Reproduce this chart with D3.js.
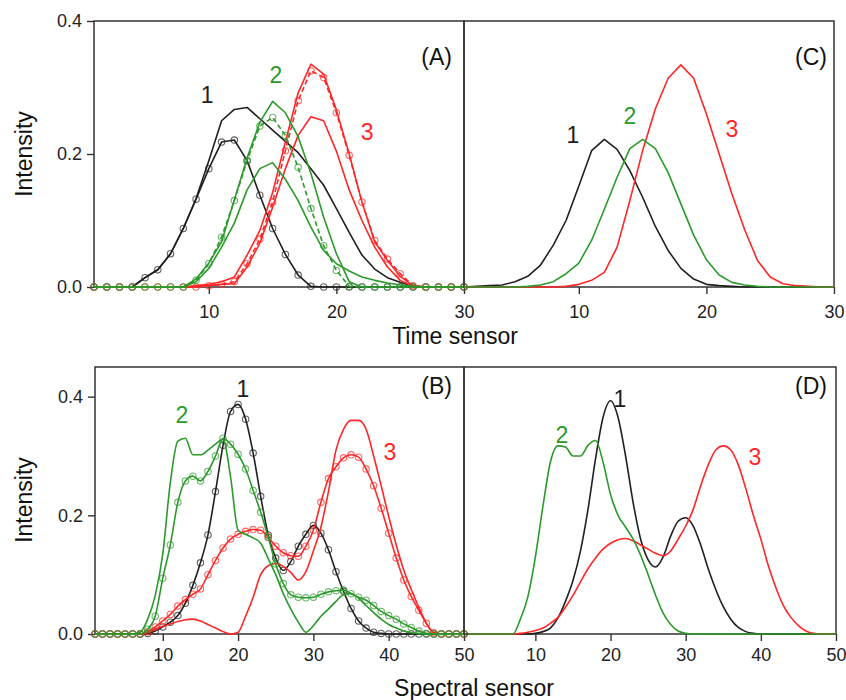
<!DOCTYPE html>
<html><head><meta charset="utf-8">
<script src="https://cdn.jsdelivr.net/npm/d3@7"></script>
<style>
body{margin:0;background:#fff}
svg text{font-family:"Liberation Sans",Arial,sans-serif;}
</style>
</head><body>
<svg id="chart" width="846" height="700"></svg>
<script>
// ---------------- DATA ----------------
const timeSensor = [1,2,3,4,5,6,7,8,9,10,11,12,13,14,15,16,17,18,19,20,21,22,23,24,25,26,27,28,29,30];
const spectralSensor = [1,2,3,4,5,6,7,8,9,10,11,12,13,14,15,16,17,18,19,20,21,22,23,24,25,26,27,28,29,30,31,32,33,34,35,36,37,38,39,40,41,42,43,44,45,46,47,48,49,50];
const timeTicks = [10,20,30];
const spectralTicks = [10,20,30,40,50];
const intensityTicks = [0,0.2,0.4];
const componentLabels = ["1","2","3"];
const panelLabels = ["(A)","(B)","(C)","(D)"];
const xTitles = ["Time sensor","Spectral sensor"];
const yTitle = "Intensity";

// Panel A: resolved time profiles
const A_c1_markers = [0,0,0,0,0.014,0.026,0.05,0.088,0.132,0.178,0.218,0.221,0.19,0.138,0.088,0.049,0.018,0.001,0,0,0,0,0,0,0,0,0,0,0,0];
const A_c1_solid   = [0,0,0,0,0.014,0.026,0.05,0.088,0.133,0.19,0.25,0.267,0.27,0.253,0.236,0.219,0.202,0.178,0.153,0.118,0.082,0.048,0.027,0.014,0.007,0.001,0,0,0,0];
const A_c2_solid   = [0,0,0,0,0,0,0,0,0.012,0.036,0.068,0.131,0.194,0.248,0.279,0.262,0.226,0.171,0.105,0.05,0.008,0,0,0,0,0,0,0,0,0];
const A_c2_markers = [0,0,0,0,0,0,0,0,0.01,0.035,0.075,0.13,0.19,0.242,0.255,0.228,0.18,0.118,0.062,0.025,0.001,0,0,0,0,0,0,0,0,0];
const A_c2_low     = [0,0,0,0,0,0,0,0,0.008,0.028,0.06,0.096,0.146,0.178,0.187,0.162,0.13,0.09,0.055,0.035,0.024,0.015,0.01,0.006,0.003,0.001,0,0,0,0];
const A_c3_solid   = [0,0,0,0,0,0,0,0,0.002,0.004,0.008,0.015,0.048,0.085,0.142,0.218,0.292,0.335,0.32,0.266,0.2,0.128,0.068,0.04,0.016,0.002,0,0,0,0];
const A_c3_markers = [0,0,0,0,0,0,0,0,0,0.002,0.004,0.008,0.035,0.072,0.128,0.205,0.28,0.325,0.315,0.262,0.198,0.128,0.07,0.042,0.02,0.002,0,0,0,0];
const A_c3_low     = [0,0,0,0,0,0,0,0,0,0.002,0.004,0.005,0.03,0.066,0.12,0.178,0.228,0.256,0.25,0.204,0.146,0.1,0.06,0.03,0.01,0.001,0,0,0,0];

// Panel C: true time profiles
const C_c1 = [0,0.001,0.002,0.003,0.008,0.016,0.033,0.063,0.1,0.152,0.205,0.222,0.207,0.175,0.135,0.091,0.055,0.028,0.012,0.004,0.002,0.001,0,0,0,0,0,0,0,0];
const C_c2 = [0,0,0,0,0,0.001,0.003,0.008,0.02,0.036,0.07,0.117,0.165,0.208,0.222,0.208,0.172,0.125,0.078,0.041,0.018,0.007,0.003,0.001,0,0,0,0,0,0];
const C_c3 = [0,0,0,0,0,0,0,0,0.001,0.004,0.01,0.022,0.06,0.13,0.205,0.268,0.314,0.334,0.314,0.26,0.2,0.14,0.086,0.04,0.015,0.005,0.002,0.001,0,0];

// Panel B: resolved spectral profiles
const B_c1_markers = [0,0,0,0,0,0,0,0.001,0.005,0.012,0.02,0.031,0.052,0.082,0.12,0.167,0.24,0.318,0.375,0.387,0.362,0.305,0.232,0.167,0.128,0.107,0.122,0.148,0.168,0.183,0.17,0.142,0.105,0.072,0.043,0.022,0.01,0.003,0.001,0,0,0,0,0,0,0,0,0,0,0];
const B_c2_solid   = [0,0,0,0,0,0,0.003,0.025,0.065,0.135,0.255,0.325,0.33,0.302,0.302,0.31,0.32,0.328,0.265,0.175,0.168,0.162,0.153,0.127,0.1,0.068,0.042,0.02,0.003,0.014,0.03,0.042,0.055,0.066,0.068,0.06,0.048,0.036,0.025,0.016,0.01,0.005,0.002,0.001,0,0,0,0,0,0];
const B_c2_markers = [0,0,0,0,0,0,0,0.008,0.03,0.094,0.15,0.222,0.258,0.266,0.258,0.274,0.3,0.33,0.32,0.303,0.278,0.242,0.205,0.163,0.118,0.085,0.066,0.062,0.061,0.062,0.067,0.071,0.073,0.074,0.068,0.062,0.057,0.048,0.038,0.031,0.025,0.017,0.011,0.005,0.001,0,0,0,0,0];
const B_c3_solid   = [0,0,0,0,0,0,0,0.002,0.008,0.013,0.017,0.021,0.024,0.025,0.022,0.016,0.01,0.004,0,0.003,0.03,0.062,0.1,0.115,0.119,0.114,0.104,0.091,0.105,0.14,0.18,0.24,0.31,0.345,0.36,0.36,0.345,0.3,0.25,0.198,0.15,0.108,0.075,0.045,0.018,0.002,0,0,0,0];
const B_c3_markers = [0,0,0,0,0,0,0,0.004,0.012,0.022,0.033,0.047,0.058,0.067,0.076,0.1,0.124,0.145,0.16,0.168,0.173,0.176,0.175,0.163,0.148,0.137,0.132,0.131,0.148,0.175,0.222,0.262,0.282,0.297,0.302,0.298,0.278,0.25,0.212,0.17,0.128,0.091,0.063,0.04,0.018,0.002,0,0,0,0];

// Panel D: true spectral profiles
const D_c1 = [0,0,0,0,0,0,0,0,0,0.001,0.004,0.01,0.027,0.055,0.09,0.14,0.21,0.295,0.365,0.393,0.365,0.3,0.222,0.16,0.125,0.113,0.13,0.165,0.19,0.196,0.182,0.15,0.11,0.075,0.046,0.025,0.011,0.004,0.001,0,0,0,0,0,0,0,0,0,0,0];
const D_c2 = [0,0,0,0,0,0,0,0.025,0.063,0.13,0.215,0.29,0.317,0.315,0.3,0.3,0.318,0.326,0.29,0.235,0.2,0.18,0.16,0.133,0.1,0.065,0.035,0.016,0.005,0.001,0,0,0,0,0,0,0,0,0,0,0,0,0,0,0,0,0,0,0,0];
const D_c3 = [0,0,0,0,0,0,0,0.001,0.003,0.006,0.01,0.018,0.028,0.045,0.065,0.088,0.11,0.128,0.143,0.153,0.159,0.161,0.157,0.15,0.143,0.136,0.132,0.14,0.16,0.182,0.21,0.25,0.285,0.31,0.317,0.31,0.285,0.245,0.2,0.16,0.115,0.078,0.048,0.028,0.014,0.005,0.001,0,0,0];

// ---------------- STYLE / LAYOUT ----------------
const COL = {k:"#202020", g:"#2b9a2b", r:"#ff2626"};
const FONT = "Liberation Sans, Arial, sans-serif";
const svg = d3.select("#chart");

const panels = [
  {id:"A", xr:[94,464], yr:[287,21], xd:[1,30], yd:[0,0.4], xs:timeSensor, ticks:timeTicks, yAxis:true, tickPad:11,
   label:"(A)", labelPos:[29.06,0.334],
   series:[
     {v:A_c1_solid, c:"k"}, {v:A_c1_markers, c:"k", m:true},
     {v:A_c3_solid, c:"r"}, {v:A_c3_low, c:"r"}, {v:A_c3_markers, c:"r", m:true, dash:"5,3"},
     {v:A_c2_solid, c:"g"}, {v:A_c2_low, c:"g"}, {v:A_c2_markers, c:"g", m:true, dash:"5,3"}],
   nums:[[9.86,0.277,"k"],[15.26,0.307,"g"],[22.4,0.221,"r"]]},
  {id:"C", xr:[464,834], yr:[287,21], xd:[1,30], yd:[0,0.4], xs:timeSensor, ticks:timeTicks, yAxis:false, tickPad:11,
   label:"(C)", labelPos:[29.45,0.334],
   series:[{v:C_c1, c:"k"}, {v:C_c3, c:"r"}, {v:C_c2, c:"g"}],
   nums:[[9.54,0.2165,"k"],[14.01,0.245,"g"],[22.0,0.2256,"r"]]},
  {id:"B", xr:[95,464], yr:[634,367], xd:[1,50], yd:[0,0.45], xs:spectralSensor, ticks:spectralTicks, yAxis:true, tickPad:7,
   label:"(B)", labelPos:[48.4,0.4045],
   series:[
     {v:B_c1_markers, c:"k", m:true},
     {v:B_c3_solid, c:"r"}, {v:B_c3_markers, c:"r", m:true},
     {v:B_c2_solid, c:"g"}, {v:B_c2_markers, c:"g", m:true}],
   nums:[[20.65,0.3995,"k"],[12.55,0.3556,"g"],[40.17,0.293,"r"]]},
  {id:"D", xr:[464,836], yr:[634,367], xd:[0.5,50], yd:[0,0.45], xs:spectralSensor, ticks:spectralTicks, yAxis:false, tickPad:7,
   label:"(D)", labelPos:[48.8,0.4045],
   series:[{v:D_c1, c:"k"}, {v:D_c3, c:"r"}, {v:D_c2, c:"g"}],
   nums:[[21.26,0.3826,"k"],[13.54,0.322,"g"],[39.22,0.285,"r"]]}
];

panels.forEach(p => {
  const x = d3.scaleLinear().domain(p.xd).range(p.xr);
  const y = d3.scaleLinear().domain(p.yd).range(p.yr);
  const g = svg.append("g");

  // x axis
  const xa = g.append("g").attr("transform",`translate(0,${p.yr[0]})`)
    .call(d3.axisBottom(x).tickValues(p.ticks).tickSize(7).tickPadding(p.tickPad).tickFormat(d3.format("d")));
  xa.select(".domain").remove();
  xa.selectAll("line").attr("stroke","#333").attr("stroke-width",1.4);
  xa.selectAll("text").attr("font-size",18).attr("font-family",FONT).attr("fill","#222");

  if (p.yAxis) {
    const ya = g.append("g").attr("transform",`translate(${p.xr[0]},0)`)
      .call(d3.axisLeft(y).tickValues(intensityTicks).tickSize(7).tickPadding(5).tickFormat(d3.format(".1f")));
    ya.select(".domain").remove();
    ya.selectAll("line").attr("stroke","#333").attr("stroke-width",1.4);
    ya.selectAll("text").attr("font-size",18).attr("font-family",FONT).attr("fill","#222");
  }

  // frame
  g.append("rect").attr("x",p.xr[0]).attr("y",p.yr[1]).attr("width",p.xr[1]-p.xr[0]).attr("height",p.yr[0]-p.yr[1])
    .attr("fill","none").attr("stroke","#333").attr("stroke-width",1.5);

  const line = d3.line().x((d,i)=>x(p.xs[i])).y(d=>y(d));
  if (p.id==="B"||p.id==="D") line.curve(d3.curveMonotoneX);

  p.series.forEach(s => {
    g.append("path").attr("d", line(s.v)).attr("fill","none")
      .attr("stroke", COL[s.c]).attr("stroke-width",1.6)
      .attr("stroke-dasharray", s.dash||null).attr("stroke-linejoin","round");
    if (s.m) {
      g.selectAll(null).data(s.v).enter().append("circle")
        .attr("cx",(d,i)=>x(p.xs[i])).attr("cy",d=>y(d)).attr("r",3.2)
        .attr("fill","none").attr("stroke",COL[s.c]).attr("stroke-width",1.1).attr("stroke-opacity",0.7);
    }
  });

  p.nums.forEach((n,i) => {
    g.append("text").attr("x",x(n[0])).attr("y",y(n[1])).attr("text-anchor","middle")
      .attr("font-size",23).attr("font-family",FONT).attr("fill",COL[n[2]]).text(componentLabels[i]);
  });
  g.append("text").attr("x",x(p.labelPos[0])).attr("y",y(p.labelPos[1])).attr("text-anchor","end")
    .attr("font-size",23).attr("font-family",FONT).attr("fill","#111").text(p.label);
});

// axis titles
svg.append("text").attr("x",455).attr("y",344).attr("text-anchor","middle").attr("font-size",23)
  .attr("font-family",FONT).attr("fill","#111").text(xTitles[0]);
svg.append("text").attr("x",474).attr("y",696).attr("text-anchor","middle").attr("font-size",23)
  .attr("font-family",FONT).attr("fill","#111").text(xTitles[1]);
[154,500].forEach(cy => {
  svg.append("text").attr("transform",`translate(32,${cy}) rotate(-90)`).attr("text-anchor","middle")
    .attr("font-size",23).attr("font-family",FONT).attr("fill","#111").text(yTitle);
});
</script>
</body></html>
